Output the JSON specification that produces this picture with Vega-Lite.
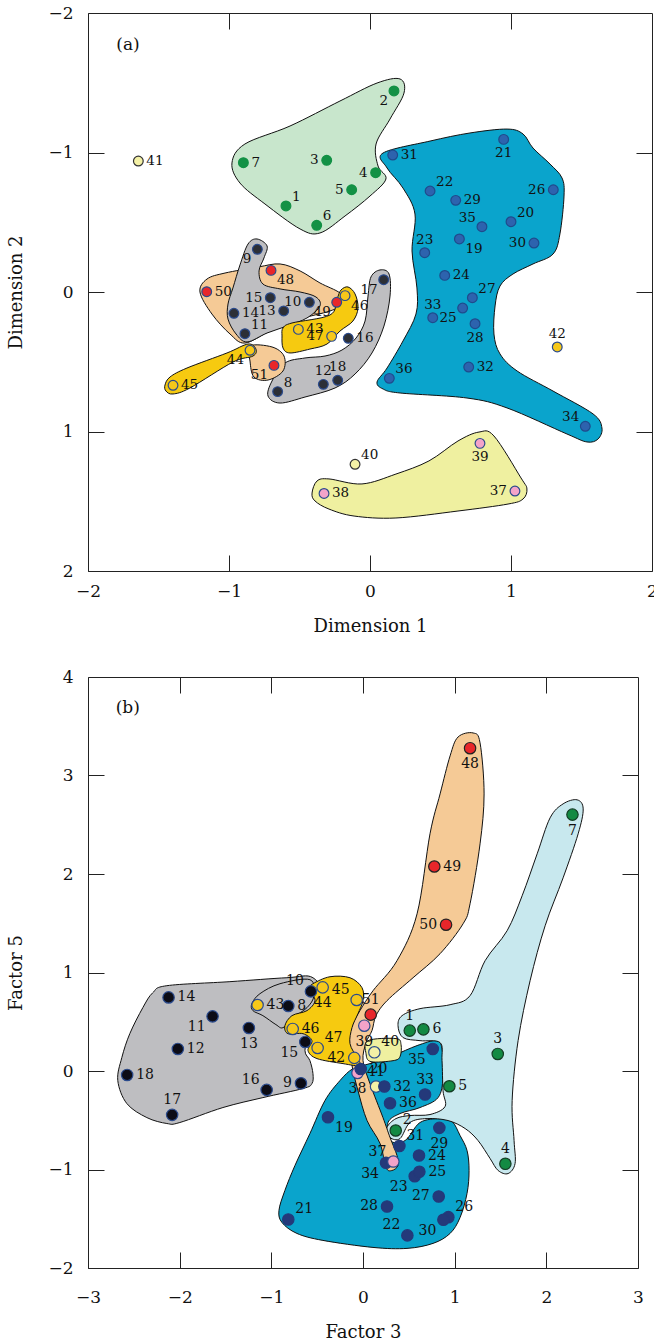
{
  "$schema": "https://vega.github.io/schema/vega-lite/v6.json",
  "background": "white",
  "padding": {"left": 7, "top": 3, "right": 0, "bottom": 0},
  "spacing": 106,
  "bounds": "flush",
  "resolve": {"scale": {"color": "independent", "fill": "independent", "stroke": "independent"}},
  "config": {
    "view": {"stroke": "#222", "strokeWidth": 1},
    "font": "DejaVu Serif",
    "text": {"font": "DejaVu Serif", "color": "#111"},
    "axis": {"domain": false, "grid": false, "tickSize": -16, "tickColor": "#222", "tickWidth": 1, "labelFont": "DejaVu Serif", "labelFontSize": 17, "labelColor": "#111", "titleFont": "DejaVu Serif", "titleFontSize": 18, "titleFontWeight": "normal", "titleColor": "#111", "labelFlush": false, "labelOverlap": false},
    "axisX": {"labelPadding": 28, "titlePadding": 18},
    "axisY": {"labelPadding": 31, "titlePadding": 22}
  },
  "datasets": {
    "pa": [
      {"id": 1, "x": -0.596, "y": -0.617, "g": "G", "lp": "tr"},
      {"id": 2, "x": 0.170, "y": -1.441, "g": "G", "lp": "bl"},
      {"id": 3, "x": -0.307, "y": -0.944, "g": "G", "lp": "l"},
      {"id": 4, "x": 0.040, "y": -0.855, "g": "G", "lp": "l"},
      {"id": 5, "x": -0.130, "y": -0.733, "g": "G", "lp": "l"},
      {"id": 6, "x": -0.378, "y": -0.478, "g": "G", "lp": "tr"},
      {"id": 7, "x": -0.898, "y": -0.927, "g": "G", "lp": "r"},
      {"id": 8, "x": -0.655, "y": 0.714, "g": "K", "lp": "tr"},
      {"id": 9, "x": -0.799, "y": -0.306, "g": "K", "lp": "bl"},
      {"id": 10, "x": -0.430, "y": 0.074, "g": "K", "lp": "l"},
      {"id": 11, "x": -0.887, "y": 0.299, "g": "K", "lp": "tr"},
      {"id": 12, "x": -0.331, "y": 0.662, "g": "K", "lp": "t"},
      {"id": 13, "x": -0.612, "y": 0.136, "g": "K", "lp": "l"},
      {"id": 14, "x": -0.965, "y": 0.153, "g": "K", "lp": "r"},
      {"id": 15, "x": -0.707, "y": 0.041, "g": "K", "lp": "l"},
      {"id": 16, "x": -0.154, "y": 0.332, "g": "K", "lp": "r"},
      {"id": 17, "x": 0.097, "y": -0.088, "g": "K", "lp": "bl"},
      {"id": 18, "x": -0.229, "y": 0.633, "g": "K", "lp": "t"},
      {"id": 19, "x": 0.634, "y": -0.380, "g": "B", "lp": "br"},
      {"id": 20, "x": 1.000, "y": -0.504, "g": "B", "lp": "tr"},
      {"id": 21, "x": 0.948, "y": -1.094, "g": "B", "lp": "b"},
      {"id": 22, "x": 0.426, "y": -0.724, "g": "B", "lp": "tr"},
      {"id": 23, "x": 0.388, "y": -0.282, "g": "B", "lp": "t"},
      {"id": 24, "x": 0.530, "y": -0.119, "g": "B", "lp": "r"},
      {"id": 25, "x": 0.657, "y": 0.115, "g": "B", "lp": "bl"},
      {"id": 26, "x": 1.300, "y": -0.733, "g": "B", "lp": "l"},
      {"id": 27, "x": 0.726, "y": 0.041, "g": "B", "lp": "tr"},
      {"id": 28, "x": 0.745, "y": 0.227, "g": "B", "lp": "b"},
      {"id": 29, "x": 0.608, "y": -0.657, "g": "B", "lp": "r"},
      {"id": 30, "x": 1.163, "y": -0.351, "g": "B", "lp": "l"},
      {"id": 31, "x": 0.161, "y": -0.982, "g": "B", "lp": "r"},
      {"id": 32, "x": 0.700, "y": 0.538, "g": "B", "lp": "r"},
      {"id": 33, "x": 0.445, "y": 0.184, "g": "B", "lp": "t"},
      {"id": 34, "x": 1.527, "y": 0.963, "g": "B", "lp": "tl"},
      {"id": 35, "x": 0.794, "y": -0.468, "g": "B", "lp": "tl"},
      {"id": 36, "x": 0.137, "y": 0.619, "g": "B", "lp": "tr"},
      {"id": 37, "x": 1.028, "y": 1.427, "g": "P", "lp": "l"},
      {"id": 38, "x": -0.326, "y": 1.444, "g": "P", "lp": "r"},
      {"id": 39, "x": 0.780, "y": 1.085, "g": "P", "lp": "b"},
      {"id": 40, "x": -0.106, "y": 1.235, "g": "Y", "lp": "tr"},
      {"id": 41, "x": -1.643, "y": -0.939, "g": "Y", "lp": "r"},
      {"id": 42, "x": 1.328, "y": 0.394, "g": "O", "lp": "t"},
      {"id": 43, "x": -0.508, "y": 0.268, "g": "O", "lp": "r"},
      {"id": 44, "x": -0.851, "y": 0.418, "g": "O", "lp": "bl"},
      {"id": 45, "x": -1.397, "y": 0.669, "g": "O", "lp": "r"},
      {"id": 46, "x": -0.177, "y": 0.026, "g": "O", "lp": "br"},
      {"id": 47, "x": -0.272, "y": 0.318, "g": "O", "lp": "l"},
      {"id": 48, "x": -0.702, "y": -0.155, "g": "R", "lp": "br"},
      {"id": 49, "x": -0.236, "y": 0.074, "g": "R", "lp": "bl"},
      {"id": 50, "x": -1.158, "y": -0.002, "g": "R", "lp": "r"},
      {"id": 51, "x": -0.681, "y": 0.526, "g": "R", "lp": "bl"}
    ],
    "pb": [
      {"id": 38, "x": -0.060, "y": -0.020, "g": "P", "lp": "b"},
      {"id": 41, "x": 0.142, "y": -0.158, "g": "Y", "lp": "t"},
      {"id": 1, "x": 0.510, "y": 0.410, "g": "G", "lp": "t"},
      {"id": 2, "x": 0.357, "y": -0.604, "g": "G", "lp": "tr"},
      {"id": 3, "x": 1.470, "y": 0.173, "g": "G", "lp": "t"},
      {"id": 4, "x": 1.553, "y": -0.942, "g": "G", "lp": "t"},
      {"id": 5, "x": 0.942, "y": -0.155, "g": "G", "lp": "r"},
      {"id": 6, "x": 0.659, "y": 0.423, "g": "G", "lp": "r"},
      {"id": 7, "x": 2.285, "y": 2.603, "g": "G", "lp": "b"},
      {"id": 8, "x": -0.815, "y": 0.660, "g": "K", "lp": "r"},
      {"id": 9, "x": -0.677, "y": -0.125, "g": "K", "lp": "l"},
      {"id": 10, "x": -0.568, "y": 0.808, "g": "K", "lp": "tl"},
      {"id": 11, "x": -1.641, "y": 0.555, "g": "K", "lp": "bl"},
      {"id": 12, "x": -2.020, "y": 0.224, "g": "K", "lp": "r"},
      {"id": 13, "x": -1.245, "y": 0.437, "g": "K", "lp": "b"},
      {"id": 14, "x": -2.121, "y": 0.747, "g": "K", "lp": "r"},
      {"id": 15, "x": -0.630, "y": 0.295, "g": "K", "lp": "bl"},
      {"id": 16, "x": -1.051, "y": -0.192, "g": "K", "lp": "tl"},
      {"id": 17, "x": -2.082, "y": -0.445, "g": "K", "lp": "t"},
      {"id": 18, "x": -2.573, "y": -0.040, "g": "K", "lp": "r"},
      {"id": 19, "x": -0.382, "y": -0.470, "g": "B", "lp": "br"},
      {"id": 20, "x": -0.025, "y": 0.020, "g": "B", "lp": "r"},
      {"id": 21, "x": -0.815, "y": -1.507, "g": "B", "lp": "tr"},
      {"id": 22, "x": 0.484, "y": -1.669, "g": "B", "lp": "tl"},
      {"id": 23, "x": 0.564, "y": -1.068, "g": "B", "lp": "bl"},
      {"id": 24, "x": 0.611, "y": -0.858, "g": "B", "lp": "r"},
      {"id": 25, "x": 0.615, "y": -1.023, "g": "B", "lp": "r"},
      {"id": 26, "x": 0.931, "y": -1.484, "g": "B", "lp": "tr"},
      {"id": 27, "x": 0.826, "y": -1.274, "g": "B", "lp": "l"},
      {"id": 28, "x": 0.262, "y": -1.375, "g": "B", "lp": "l"},
      {"id": 29, "x": 0.833, "y": -0.577, "g": "B", "lp": "b"},
      {"id": 30, "x": 0.877, "y": -1.510, "g": "B", "lp": "bl"},
      {"id": 31, "x": 0.397, "y": -0.762, "g": "B", "lp": "tr"},
      {"id": 32, "x": 0.233, "y": -0.158, "g": "B", "lp": "r"},
      {"id": 33, "x": 0.677, "y": -0.239, "g": "B", "lp": "t"},
      {"id": 34, "x": 0.251, "y": -0.932, "g": "B", "lp": "bl"},
      {"id": 35, "x": 0.761, "y": 0.224, "g": "B", "lp": "bl"},
      {"id": 36, "x": 0.295, "y": -0.327, "g": "B", "lp": "r"},
      {"id": 37, "x": 0.331, "y": -0.919, "g": "P", "lp": "tl"},
      {"id": 39, "x": 0.014, "y": 0.460, "g": "P", "lp": "b"},
      {"id": 40, "x": 0.124, "y": 0.190, "g": "Y", "lp": "tr"},
      {"id": 42, "x": -0.095, "y": 0.133, "g": "O", "lp": "l"},
      {"id": 43, "x": -1.150, "y": 0.670, "g": "O", "lp": "r"},
      {"id": 44, "x": -0.440, "y": 0.849, "g": "O", "lp": "b"},
      {"id": 45, "x": -0.069, "y": 0.721, "g": "O", "lp": "tl"},
      {"id": 46, "x": -0.767, "y": 0.427, "g": "O", "lp": "r"},
      {"id": 47, "x": -0.495, "y": 0.234, "g": "O", "lp": "tr"},
      {"id": 48, "x": 1.168, "y": 3.277, "g": "R", "lp": "b"},
      {"id": 49, "x": 0.778, "y": 2.076, "g": "R", "lp": "r"},
      {"id": 50, "x": 0.906, "y": 1.485, "g": "R", "lp": "l"},
      {"id": 51, "x": 0.084, "y": 0.572, "g": "R", "lp": "t"}
    ],
    "ba": [
      {"b": "green", "c": "green", "i": 0, "x": -0.979, "y": -0.925},
      {"b": "green", "c": "green", "i": 1, "x": -0.887, "y": -1.061},
      {"b": "green", "c": "green", "i": 2, "x": -0.567, "y": -1.190},
      {"b": "green", "c": "green", "i": 3, "x": -0.213, "y": -1.369},
      {"b": "green", "c": "green", "i": 4, "x": 0.050, "y": -1.498},
      {"b": "green", "c": "green", "i": 5, "x": 0.213, "y": -1.527},
      {"b": "green", "c": "green", "i": 6, "x": 0.241, "y": -1.426},
      {"b": "green", "c": "green", "i": 7, "x": 0.142, "y": -1.240},
      {"b": "green", "c": "green", "i": 8, "x": 0.043, "y": -1.061},
      {"b": "green", "c": "green", "i": 9, "x": 0.057, "y": -0.903},
      {"b": "green", "c": "green", "i": 10, "x": 0.113, "y": -0.810},
      {"b": "green", "c": "green", "i": 11, "x": 0.000, "y": -0.688},
      {"b": "green", "c": "green", "i": 12, "x": -0.177, "y": -0.545},
      {"b": "green", "c": "green", "i": 13, "x": -0.355, "y": -0.423},
      {"b": "green", "c": "green", "i": 14, "x": -0.496, "y": -0.452},
      {"b": "green", "c": "green", "i": 15, "x": -0.745, "y": -0.631},
      {"b": "green", "c": "green", "i": 16, "x": -0.922, "y": -0.781},
      {"b": "blue", "c": "blue", "i": 0, "x": 0.092, "y": -0.996},
      {"b": "blue", "c": "blue", "i": 1, "x": 0.426, "y": -1.082},
      {"b": "blue", "c": "blue", "i": 2, "x": 0.709, "y": -1.140},
      {"b": "blue", "c": "blue", "i": 3, "x": 0.972, "y": -1.168},
      {"b": "blue", "c": "blue", "i": 4, "x": 1.085, "y": -1.133},
      {"b": "blue", "c": "blue", "i": 5, "x": 1.156, "y": -1.032},
      {"b": "blue", "c": "blue", "i": 6, "x": 1.277, "y": -0.917},
      {"b": "blue", "c": "blue", "i": 7, "x": 1.362, "y": -0.817},
      {"b": "blue", "c": "blue", "i": 8, "x": 1.376, "y": -0.688},
      {"b": "blue", "c": "blue", "i": 9, "x": 1.347, "y": -0.416},
      {"b": "blue", "c": "blue", "i": 10, "x": 1.298, "y": -0.272},
      {"b": "blue", "c": "blue", "i": 11, "x": 1.156, "y": -0.201},
      {"b": "blue", "c": "blue", "i": 12, "x": 1.014, "y": -0.129},
      {"b": "blue", "c": "blue", "i": 13, "x": 0.922, "y": -0.043},
      {"b": "blue", "c": "blue", "i": 14, "x": 0.887, "y": 0.100},
      {"b": "blue", "c": "blue", "i": 15, "x": 0.879, "y": 0.301},
      {"b": "blue", "c": "blue", "i": 16, "x": 0.922, "y": 0.444},
      {"b": "blue", "c": "blue", "i": 17, "x": 1.043, "y": 0.566},
      {"b": "blue", "c": "blue", "i": 18, "x": 1.298, "y": 0.710},
      {"b": "blue", "c": "blue", "i": 19, "x": 1.582, "y": 0.874},
      {"b": "blue", "c": "blue", "i": 20, "x": 1.645, "y": 0.975},
      {"b": "blue", "c": "blue", "i": 21, "x": 1.617, "y": 1.054},
      {"b": "blue", "c": "blue", "i": 22, "x": 1.539, "y": 1.075},
      {"b": "blue", "c": "blue", "i": 23, "x": 1.397, "y": 1.018},
      {"b": "blue", "c": "blue", "i": 24, "x": 0.972, "y": 0.831},
      {"b": "blue", "c": "blue", "i": 25, "x": 0.688, "y": 0.760},
      {"b": "blue", "c": "blue", "i": 26, "x": 0.213, "y": 0.724},
      {"b": "blue", "c": "blue", "i": 27, "x": 0.092, "y": 0.695},
      {"b": "blue", "c": "blue", "i": 28, "x": 0.050, "y": 0.645},
      {"b": "blue", "c": "blue", "i": 29, "x": 0.121, "y": 0.545},
      {"b": "blue", "c": "blue", "i": 30, "x": 0.234, "y": 0.351},
      {"b": "blue", "c": "blue", "i": 31, "x": 0.326, "y": 0.158},
      {"b": "blue", "c": "blue", "i": 32, "x": 0.333, "y": -0.029},
      {"b": "blue", "c": "blue", "i": 33, "x": 0.298, "y": -0.294},
      {"b": "blue", "c": "blue", "i": 34, "x": 0.319, "y": -0.559},
      {"b": "blue", "c": "blue", "i": 35, "x": 0.234, "y": -0.745},
      {"b": "blue", "c": "blue", "i": 36, "x": 0.121, "y": -0.889},
      {"b": "pale", "c": "pale", "i": 0, "x": -0.411, "y": 1.441},
      {"b": "pale", "c": "pale", "i": 1, "x": -0.376, "y": 1.355},
      {"b": "pale", "c": "pale", "i": 2, "x": -0.291, "y": 1.340},
      {"b": "pale", "c": "pale", "i": 3, "x": -0.057, "y": 1.376},
      {"b": "pale", "c": "pale", "i": 4, "x": 0.184, "y": 1.305},
      {"b": "pale", "c": "pale", "i": 5, "x": 0.418, "y": 1.211},
      {"b": "pale", "c": "pale", "i": 6, "x": 0.624, "y": 1.068},
      {"b": "pale", "c": "pale", "i": 7, "x": 0.773, "y": 1.004},
      {"b": "pale", "c": "pale", "i": 8, "x": 0.879, "y": 1.032},
      {"b": "pale", "c": "pale", "i": 9, "x": 1.071, "y": 1.333},
      {"b": "pale", "c": "pale", "i": 10, "x": 1.113, "y": 1.412},
      {"b": "pale", "c": "pale", "i": 11, "x": 1.085, "y": 1.484},
      {"b": "pale", "c": "pale", "i": 12, "x": 0.979, "y": 1.520},
      {"b": "pale", "c": "pale", "i": 13, "x": 0.624, "y": 1.570},
      {"b": "pale", "c": "pale", "i": 14, "x": 0.184, "y": 1.620},
      {"b": "pale", "c": "pale", "i": 15, "x": -0.113, "y": 1.606},
      {"b": "pale", "c": "pale", "i": 16, "x": -0.291, "y": 1.556},
      {"b": "pale", "c": "pale", "i": 17, "x": -0.390, "y": 1.498},
      {"b": "orange1", "c": "orange", "i": 0, "x": -1.206, "y": 0.000},
      {"b": "orange1", "c": "orange", "i": 1, "x": -1.156, "y": -0.093},
      {"b": "orange1", "c": "orange", "i": 2, "x": -1.028, "y": -0.136},
      {"b": "orange1", "c": "orange", "i": 3, "x": -0.794, "y": -0.179},
      {"b": "orange1", "c": "orange", "i": 4, "x": -0.638, "y": -0.201},
      {"b": "orange1", "c": "orange", "i": 5, "x": -0.496, "y": -0.151},
      {"b": "orange1", "c": "orange", "i": 6, "x": -0.355, "y": -0.065},
      {"b": "orange1", "c": "orange", "i": 7, "x": -0.213, "y": 0.007},
      {"b": "orange1", "c": "orange", "i": 8, "x": -0.170, "y": 0.079},
      {"b": "orange1", "c": "orange", "i": 9, "x": -0.284, "y": 0.136},
      {"b": "orange1", "c": "orange", "i": 10, "x": -0.496, "y": 0.194},
      {"b": "orange1", "c": "orange", "i": 11, "x": -0.709, "y": 0.280},
      {"b": "orange1", "c": "orange", "i": 12, "x": -0.887, "y": 0.366},
      {"b": "orange1", "c": "orange", "i": 13, "x": -0.993, "y": 0.301},
      {"b": "orange1", "c": "orange", "i": 14, "x": -1.121, "y": 0.158},
      {"b": "gray1", "c": "gray", "i": 0, "x": -0.801, "y": -0.380},
      {"b": "gray1", "c": "gray", "i": 1, "x": -0.730, "y": -0.330},
      {"b": "gray1", "c": "gray", "i": 2, "x": -0.752, "y": -0.244},
      {"b": "gray1", "c": "gray", "i": 3, "x": -0.787, "y": -0.151},
      {"b": "gray1", "c": "gray", "i": 4, "x": -0.759, "y": -0.057},
      {"b": "gray1", "c": "gray", "i": 5, "x": -0.638, "y": -0.022},
      {"b": "gray1", "c": "gray", "i": 6, "x": -0.496, "y": 0.000},
      {"b": "gray1", "c": "gray", "i": 7, "x": -0.383, "y": 0.036},
      {"b": "gray1", "c": "gray", "i": 8, "x": -0.355, "y": 0.100},
      {"b": "gray1", "c": "gray", "i": 9, "x": -0.447, "y": 0.186},
      {"b": "gray1", "c": "gray", "i": 10, "x": -0.589, "y": 0.244},
      {"b": "gray1", "c": "gray", "i": 11, "x": -0.730, "y": 0.294},
      {"b": "gray1", "c": "gray", "i": 12, "x": -0.872, "y": 0.358},
      {"b": "gray1", "c": "gray", "i": 13, "x": -0.950, "y": 0.301},
      {"b": "gray1", "c": "gray", "i": 14, "x": -1.007, "y": 0.194},
      {"b": "gray1", "c": "gray", "i": 15, "x": -1.007, "y": 0.086},
      {"b": "gray1", "c": "gray", "i": 16, "x": -0.972, "y": -0.029},
      {"b": "gray1", "c": "gray", "i": 17, "x": -0.922, "y": -0.194},
      {"b": "gray1", "c": "gray", "i": 18, "x": -0.865, "y": -0.344},
      {"b": "gray2", "c": "gray", "i": 0, "x": -0.723, "y": 0.746},
      {"b": "gray2", "c": "gray", "i": 1, "x": -0.695, "y": 0.638},
      {"b": "gray2", "c": "gray", "i": 2, "x": -0.603, "y": 0.509},
      {"b": "gray2", "c": "gray", "i": 3, "x": -0.461, "y": 0.473},
      {"b": "gray2", "c": "gray", "i": 4, "x": -0.319, "y": 0.459},
      {"b": "gray2", "c": "gray", "i": 5, "x": -0.199, "y": 0.416},
      {"b": "gray2", "c": "gray", "i": 6, "x": -0.099, "y": 0.330},
      {"b": "gray2", "c": "gray", "i": 7, "x": -0.035, "y": 0.208},
      {"b": "gray2", "c": "gray", "i": 8, "x": -0.014, "y": 0.029},
      {"b": "gray2", "c": "gray", "i": 9, "x": 0.007, "y": -0.108},
      {"b": "gray2", "c": "gray", "i": 10, "x": 0.071, "y": -0.158},
      {"b": "gray2", "c": "gray", "i": 11, "x": 0.135, "y": -0.129},
      {"b": "gray2", "c": "gray", "i": 12, "x": 0.142, "y": 0.029},
      {"b": "gray2", "c": "gray", "i": 13, "x": 0.099, "y": 0.244},
      {"b": "gray2", "c": "gray", "i": 14, "x": 0.014, "y": 0.437},
      {"b": "gray2", "c": "gray", "i": 15, "x": -0.106, "y": 0.588},
      {"b": "gray2", "c": "gray", "i": 16, "x": -0.248, "y": 0.688},
      {"b": "gray2", "c": "gray", "i": 17, "x": -0.461, "y": 0.753},
      {"b": "gray2", "c": "gray", "i": 18, "x": -0.638, "y": 0.796},
      {"b": "orange2", "c": "orange", "i": 0, "x": -0.851, "y": 0.387},
      {"b": "orange2", "c": "orange", "i": 1, "x": -0.695, "y": 0.394},
      {"b": "orange2", "c": "orange", "i": 2, "x": -0.610, "y": 0.459},
      {"b": "orange2", "c": "orange", "i": 3, "x": -0.617, "y": 0.566},
      {"b": "orange2", "c": "orange", "i": 4, "x": -0.723, "y": 0.631},
      {"b": "orange2", "c": "orange", "i": 5, "x": -0.823, "y": 0.609},
      {"b": "orange2", "c": "orange", "i": 6, "x": -0.851, "y": 0.495},
      {"b": "yellow1", "c": "yellow", "i": 0, "x": -1.454, "y": 0.667},
      {"b": "yellow1", "c": "yellow", "i": 1, "x": -1.418, "y": 0.609},
      {"b": "yellow1", "c": "yellow", "i": 2, "x": -1.298, "y": 0.545},
      {"b": "yellow1", "c": "yellow", "i": 3, "x": -1.014, "y": 0.437},
      {"b": "yellow1", "c": "yellow", "i": 4, "x": -0.865, "y": 0.373},
      {"b": "yellow1", "c": "yellow", "i": 5, "x": -0.809, "y": 0.409},
      {"b": "yellow1", "c": "yellow", "i": 6, "x": -0.830, "y": 0.459},
      {"b": "yellow1", "c": "yellow", "i": 7, "x": -0.972, "y": 0.502},
      {"b": "yellow1", "c": "yellow", "i": 8, "x": -1.277, "y": 0.688},
      {"b": "yellow1", "c": "yellow", "i": 9, "x": -1.397, "y": 0.731},
      {"b": "yellow1", "c": "yellow", "i": 10, "x": -1.447, "y": 0.710},
      {"b": "yellow2", "c": "yellow", "i": 0, "x": -0.617, "y": 0.258},
      {"b": "yellow2", "c": "yellow", "i": 1, "x": -0.553, "y": 0.222},
      {"b": "yellow2", "c": "yellow", "i": 2, "x": -0.284, "y": 0.165},
      {"b": "yellow2", "c": "yellow", "i": 3, "x": -0.234, "y": 0.050},
      {"b": "yellow2", "c": "yellow", "i": 4, "x": -0.206, "y": -0.014},
      {"b": "yellow2", "c": "yellow", "i": 5, "x": -0.156, "y": -0.036},
      {"b": "yellow2", "c": "yellow", "i": 6, "x": -0.106, "y": 0.014},
      {"b": "yellow2", "c": "yellow", "i": 7, "x": -0.085, "y": 0.115},
      {"b": "yellow2", "c": "yellow", "i": 8, "x": -0.121, "y": 0.208},
      {"b": "yellow2", "c": "yellow", "i": 9, "x": -0.213, "y": 0.280},
      {"b": "yellow2", "c": "yellow", "i": 10, "x": -0.305, "y": 0.373},
      {"b": "yellow2", "c": "yellow", "i": 11, "x": -0.426, "y": 0.409},
      {"b": "yellow2", "c": "yellow", "i": 12, "x": -0.567, "y": 0.437},
      {"b": "yellow2", "c": "yellow", "i": 13, "x": -0.617, "y": 0.401},
      {"b": "yellow2", "c": "yellow", "i": 14, "x": -0.624, "y": 0.315}
    ],
    "bb": [
      {"b": "gray", "c": "gray", "i": 0, "x": -2.293, "y": 0.795},
      {"b": "gray", "c": "gray", "i": 1, "x": -2.140, "y": 0.866},
      {"b": "gray", "c": "gray", "i": 2, "x": -1.452, "y": 0.907},
      {"b": "gray", "c": "gray", "i": 3, "x": -0.830, "y": 0.947},
      {"b": "gray", "c": "gray", "i": 4, "x": -0.546, "y": 0.947},
      {"b": "gray", "c": "gray", "i": 5, "x": -0.415, "y": 0.714},
      {"b": "gray", "c": "gray", "i": 6, "x": -0.579, "y": 0.410},
      {"b": "gray", "c": "gray", "i": 7, "x": -0.633, "y": 0.207},
      {"b": "gray", "c": "gray", "i": 8, "x": -0.579, "y": 0.105},
      {"b": "gray", "c": "gray", "i": 9, "x": -0.546, "y": -0.026},
      {"b": "gray", "c": "gray", "i": 10, "x": -0.557, "y": -0.128},
      {"b": "gray", "c": "gray", "i": 11, "x": -0.655, "y": -0.178},
      {"b": "gray", "c": "gray", "i": 12, "x": -1.092, "y": -0.270},
      {"b": "gray", "c": "gray", "i": 13, "x": -1.528, "y": -0.371},
      {"b": "gray", "c": "gray", "i": 14, "x": -1.998, "y": -0.523},
      {"b": "gray", "c": "gray", "i": 15, "x": -2.140, "y": -0.533},
      {"b": "gray", "c": "gray", "i": 16, "x": -2.358, "y": -0.473},
      {"b": "gray", "c": "gray", "i": 17, "x": -2.576, "y": -0.331},
      {"b": "gray", "c": "gray", "i": 18, "x": -2.675, "y": -0.097},
      {"b": "gray", "c": "gray", "i": 19, "x": -2.631, "y": 0.136},
      {"b": "gray", "c": "gray", "i": 20, "x": -2.544, "y": 0.379},
      {"b": "gray", "c": "gray", "i": 21, "x": -2.402, "y": 0.643},
      {"b": "lobe", "c": "gray", "i": 0, "x": -1.212, "y": 0.684},
      {"b": "lobe", "c": "gray", "i": 1, "x": -1.124, "y": 0.785},
      {"b": "lobe", "c": "gray", "i": 2, "x": -0.906, "y": 0.886},
      {"b": "lobe", "c": "gray", "i": 3, "x": -0.579, "y": 0.927},
      {"b": "lobe", "c": "gray", "i": 4, "x": -0.535, "y": 0.765},
      {"b": "lobe", "c": "gray", "i": 5, "x": -0.611, "y": 0.643},
      {"b": "lobe", "c": "gray", "i": 6, "x": -0.764, "y": 0.542},
      {"b": "lobe", "c": "gray", "i": 7, "x": -0.873, "y": 0.440},
      {"b": "lobe", "c": "gray", "i": 8, "x": -0.950, "y": 0.471},
      {"b": "lobe", "c": "gray", "i": 9, "x": -1.092, "y": 0.562},
      {"b": "lobe", "c": "gray", "i": 10, "x": -1.201, "y": 0.613},
      {"b": "blue", "c": "blue", "i": 0, "x": -0.109, "y": 0.024},
      {"b": "blue", "c": "blue", "i": 1, "x": 0.076, "y": 0.075},
      {"b": "blue", "c": "blue", "i": 2, "x": 0.328, "y": 0.156},
      {"b": "blue", "c": "blue", "i": 3, "x": 0.590, "y": 0.258},
      {"b": "blue", "c": "blue", "i": 4, "x": 0.797, "y": 0.308},
      {"b": "blue", "c": "blue", "i": 5, "x": 0.862, "y": 0.227},
      {"b": "blue", "c": "blue", "i": 6, "x": 0.873, "y": -0.067},
      {"b": "blue", "c": "blue", "i": 7, "x": 0.819, "y": -0.270},
      {"b": "blue", "c": "blue", "i": 8, "x": 0.622, "y": -0.371},
      {"b": "blue", "c": "blue", "i": 9, "x": 0.404, "y": -0.432},
      {"b": "blue", "c": "blue", "i": 10, "x": 0.273, "y": -0.523},
      {"b": "blue", "c": "blue", "i": 11, "x": 0.295, "y": -0.706},
      {"b": "blue", "c": "blue", "i": 12, "x": 0.459, "y": -0.706},
      {"b": "blue", "c": "blue", "i": 13, "x": 0.622, "y": -0.523},
      {"b": "blue", "c": "blue", "i": 14, "x": 0.841, "y": -0.483},
      {"b": "blue", "c": "blue", "i": 15, "x": 0.972, "y": -0.513},
      {"b": "blue", "c": "blue", "i": 16, "x": 1.059, "y": -0.655},
      {"b": "blue", "c": "blue", "i": 17, "x": 1.135, "y": -0.807},
      {"b": "blue", "c": "blue", "i": 18, "x": 1.157, "y": -1.010},
      {"b": "blue", "c": "blue", "i": 19, "x": 1.135, "y": -1.243},
      {"b": "blue", "c": "blue", "i": 20, "x": 1.059, "y": -1.487},
      {"b": "blue", "c": "blue", "i": 21, "x": 0.950, "y": -1.649},
      {"b": "blue", "c": "blue", "i": 22, "x": 0.764, "y": -1.750},
      {"b": "blue", "c": "blue", "i": 23, "x": 0.480, "y": -1.801},
      {"b": "blue", "c": "blue", "i": 24, "x": 0.109, "y": -1.791},
      {"b": "blue", "c": "blue", "i": 25, "x": -0.437, "y": -1.720},
      {"b": "blue", "c": "blue", "i": 26, "x": -0.721, "y": -1.649},
      {"b": "blue", "c": "blue", "i": 27, "x": -0.884, "y": -1.538},
      {"b": "blue", "c": "blue", "i": 28, "x": -0.917, "y": -1.416},
      {"b": "blue", "c": "blue", "i": 29, "x": -0.852, "y": -1.213},
      {"b": "blue", "c": "blue", "i": 30, "x": -0.742, "y": -0.959},
      {"b": "blue", "c": "blue", "i": 31, "x": -0.579, "y": -0.635},
      {"b": "blue", "c": "blue", "i": 32, "x": -0.415, "y": -0.300},
      {"b": "blue", "c": "blue", "i": 33, "x": -0.251, "y": -0.097},
      {"b": "lblue", "c": "lblue", "i": 0, "x": 2.183, "y": 2.712},
      {"b": "lblue", "c": "lblue", "i": 1, "x": 2.336, "y": 2.753},
      {"b": "lblue", "c": "lblue", "i": 2, "x": 2.402, "y": 2.661},
      {"b": "lblue", "c": "lblue", "i": 3, "x": 2.347, "y": 2.408},
      {"b": "lblue", "c": "lblue", "i": 4, "x": 2.183, "y": 1.961},
      {"b": "lblue", "c": "lblue", "i": 5, "x": 1.987, "y": 1.475},
      {"b": "lblue", "c": "lblue", "i": 6, "x": 1.823, "y": 0.917},
      {"b": "lblue", "c": "lblue", "i": 7, "x": 1.692, "y": 0.308},
      {"b": "lblue", "c": "lblue", "i": 8, "x": 1.627, "y": -0.300},
      {"b": "lblue", "c": "lblue", "i": 9, "x": 1.648, "y": -0.706},
      {"b": "lblue", "c": "lblue", "i": 10, "x": 1.659, "y": -0.939},
      {"b": "lblue", "c": "lblue", "i": 11, "x": 1.583, "y": -1.041},
      {"b": "lblue", "c": "lblue", "i": 12, "x": 1.474, "y": -1.010},
      {"b": "lblue", "c": "lblue", "i": 13, "x": 1.386, "y": -0.888},
      {"b": "lblue", "c": "lblue", "i": 14, "x": 1.255, "y": -0.706},
      {"b": "lblue", "c": "lblue", "i": 15, "x": 1.114, "y": -0.584},
      {"b": "lblue", "c": "lblue", "i": 16, "x": 0.928, "y": -0.503},
      {"b": "lblue", "c": "lblue", "i": 17, "x": 0.699, "y": -0.483},
      {"b": "lblue", "c": "lblue", "i": 18, "x": 0.513, "y": -0.523},
      {"b": "lblue", "c": "lblue", "i": 19, "x": 0.404, "y": -0.686},
      {"b": "lblue", "c": "lblue", "i": 20, "x": 0.295, "y": -0.675},
      {"b": "lblue", "c": "lblue", "i": 21, "x": 0.262, "y": -0.574},
      {"b": "lblue", "c": "lblue", "i": 22, "x": 0.360, "y": -0.483},
      {"b": "lblue", "c": "lblue", "i": 23, "x": 0.513, "y": -0.452},
      {"b": "lblue", "c": "lblue", "i": 24, "x": 0.731, "y": -0.442},
      {"b": "lblue", "c": "lblue", "i": 25, "x": 0.895, "y": -0.361},
      {"b": "lblue", "c": "lblue", "i": 26, "x": 0.873, "y": -0.199},
      {"b": "lblue", "c": "lblue", "i": 27, "x": 0.862, "y": 0.105},
      {"b": "lblue", "c": "lblue", "i": 28, "x": 0.841, "y": 0.288},
      {"b": "lblue", "c": "lblue", "i": 29, "x": 0.622, "y": 0.308},
      {"b": "lblue", "c": "lblue", "i": 30, "x": 0.437, "y": 0.339},
      {"b": "lblue", "c": "lblue", "i": 31, "x": 0.382, "y": 0.460},
      {"b": "lblue", "c": "lblue", "i": 32, "x": 0.426, "y": 0.562},
      {"b": "lblue", "c": "lblue", "i": 33, "x": 0.622, "y": 0.633},
      {"b": "lblue", "c": "lblue", "i": 34, "x": 0.950, "y": 0.673},
      {"b": "lblue", "c": "lblue", "i": 35, "x": 1.168, "y": 0.765},
      {"b": "lblue", "c": "lblue", "i": 36, "x": 1.332, "y": 1.120},
      {"b": "lblue", "c": "lblue", "i": 37, "x": 1.572, "y": 1.424},
      {"b": "lblue", "c": "lblue", "i": 38, "x": 1.736, "y": 1.779},
      {"b": "lblue", "c": "lblue", "i": 39, "x": 1.900, "y": 2.205},
      {"b": "lblue", "c": "lblue", "i": 40, "x": 2.041, "y": 2.570},
      {"b": "orange", "c": "orange", "i": 0, "x": 1.037, "y": 3.391},
      {"b": "orange", "c": "orange", "i": 1, "x": 1.201, "y": 3.432},
      {"b": "orange", "c": "orange", "i": 2, "x": 1.277, "y": 3.331},
      {"b": "orange", "c": "orange", "i": 3, "x": 1.321, "y": 2.813},
      {"b": "orange", "c": "orange", "i": 4, "x": 1.277, "y": 2.306},
      {"b": "orange", "c": "orange", "i": 5, "x": 1.168, "y": 1.698},
      {"b": "orange", "c": "orange", "i": 6, "x": 1.092, "y": 1.495},
      {"b": "orange", "c": "orange", "i": 7, "x": 0.841, "y": 1.191},
      {"b": "orange", "c": "orange", "i": 8, "x": 0.546, "y": 0.947},
      {"b": "orange", "c": "orange", "i": 9, "x": 0.262, "y": 0.714},
      {"b": "orange", "c": "orange", "i": 10, "x": 0.142, "y": 0.562},
      {"b": "orange", "c": "orange", "i": 11, "x": 0.098, "y": 0.410},
      {"b": "orange", "c": "orange", "i": 12, "x": 0.033, "y": 0.288},
      {"b": "orange", "c": "orange", "i": 13, "x": 0.000, "y": 0.105},
      {"b": "orange", "c": "orange", "i": 14, "x": 0.076, "y": -0.128},
      {"b": "orange", "c": "orange", "i": 15, "x": 0.218, "y": -0.473},
      {"b": "orange", "c": "orange", "i": 16, "x": 0.295, "y": -0.675},
      {"b": "orange", "c": "orange", "i": 17, "x": 0.371, "y": -0.858},
      {"b": "orange", "c": "orange", "i": 18, "x": 0.382, "y": -0.959},
      {"b": "orange", "c": "orange", "i": 19, "x": 0.317, "y": -1.010},
      {"b": "orange", "c": "orange", "i": 20, "x": 0.251, "y": -0.980},
      {"b": "orange", "c": "orange", "i": 21, "x": 0.186, "y": -0.736},
      {"b": "orange", "c": "orange", "i": 22, "x": 0.044, "y": -0.503},
      {"b": "orange", "c": "orange", "i": 23, "x": -0.055, "y": -0.199},
      {"b": "orange", "c": "orange", "i": 24, "x": -0.120, "y": 0.055},
      {"b": "orange", "c": "orange", "i": 25, "x": -0.153, "y": 0.308},
      {"b": "orange", "c": "orange", "i": 26, "x": -0.120, "y": 0.460},
      {"b": "orange", "c": "orange", "i": 27, "x": -0.033, "y": 0.613},
      {"b": "orange", "c": "orange", "i": 28, "x": 0.109, "y": 0.815},
      {"b": "orange", "c": "orange", "i": 29, "x": 0.371, "y": 1.120},
      {"b": "orange", "c": "orange", "i": 30, "x": 0.590, "y": 1.596},
      {"b": "orange", "c": "orange", "i": 31, "x": 0.731, "y": 2.408},
      {"b": "orange", "c": "orange", "i": 32, "x": 0.841, "y": 2.813},
      {"b": "orange", "c": "orange", "i": 33, "x": 0.950, "y": 3.199},
      {"b": "yellow", "c": "yellow", "i": 0, "x": -0.546, "y": 0.886},
      {"b": "yellow", "c": "yellow", "i": 1, "x": -0.360, "y": 0.957},
      {"b": "yellow", "c": "yellow", "i": 2, "x": -0.142, "y": 0.947},
      {"b": "yellow", "c": "yellow", "i": 3, "x": -0.011, "y": 0.846},
      {"b": "yellow", "c": "yellow", "i": 4, "x": 0.000, "y": 0.714},
      {"b": "yellow", "c": "yellow", "i": 5, "x": -0.055, "y": 0.582},
      {"b": "yellow", "c": "yellow", "i": 6, "x": -0.120, "y": 0.440},
      {"b": "yellow", "c": "yellow", "i": 7, "x": -0.142, "y": 0.278},
      {"b": "yellow", "c": "yellow", "i": 8, "x": -0.066, "y": 0.136},
      {"b": "yellow", "c": "yellow", "i": 9, "x": -0.033, "y": 0.055},
      {"b": "yellow", "c": "yellow", "i": 10, "x": -0.218, "y": 0.075},
      {"b": "yellow", "c": "yellow", "i": 11, "x": -0.502, "y": 0.126},
      {"b": "yellow", "c": "yellow", "i": 12, "x": -0.600, "y": 0.207},
      {"b": "yellow", "c": "yellow", "i": 13, "x": -0.557, "y": 0.308},
      {"b": "yellow", "c": "yellow", "i": 14, "x": -0.655, "y": 0.379},
      {"b": "yellow", "c": "yellow", "i": 15, "x": -0.819, "y": 0.379},
      {"b": "yellow", "c": "yellow", "i": 16, "x": -0.852, "y": 0.460},
      {"b": "yellow", "c": "yellow", "i": 17, "x": -0.775, "y": 0.562},
      {"b": "yellow", "c": "yellow", "i": 18, "x": -0.611, "y": 0.613},
      {"b": "yellow", "c": "yellow", "i": 19, "x": -0.524, "y": 0.714},
      {"b": "yellow", "c": "yellow", "i": 20, "x": -0.579, "y": 0.836},
      {"b": "pale", "c": "pale", "i": 0, "x": 0.055, "y": 0.308},
      {"b": "pale", "c": "pale", "i": 1, "x": 0.360, "y": 0.329},
      {"b": "pale", "c": "pale", "i": 2, "x": 0.415, "y": 0.268},
      {"b": "pale", "c": "pale", "i": 3, "x": 0.404, "y": 0.146},
      {"b": "pale", "c": "pale", "i": 4, "x": 0.328, "y": 0.105},
      {"b": "pale", "c": "pale", "i": 5, "x": 0.087, "y": 0.095},
      {"b": "pale", "c": "pale", "i": 6, "x": 0.033, "y": 0.176}
    ]
  },
  "vconcat": [
    {
      "width": 564,
      "height": 558,
      "resolve": {"axis": {"x": "independent", "y": "independent"}},
      "layer": [
        {
          "encoding": {
            "x": {"field": "x", "type": "quantitative", "scale": {"domain": [-2, 2], "nice": false, "zero": false}, "axis": {"values": [-2, -1, 0, 1, 2], "title": "Dimension 1"}},
            "y": {"field": "y", "type": "quantitative", "scale": {"domain": [-2, 2], "nice": false, "zero": false, "reverse": true}, "axis": {"values": [-2, -1, 0, 1, 2], "title": "Dimension 2"}}
          },
          "layer": [
            {
              "data": {"name": "ba"},
              "mark": {"type": "line", "interpolate": "cardinal-closed", "stroke": "#111", "strokeWidth": 1},
              "encoding": {
                "fill": {"field": "c", "type": "nominal", "legend": null, "scale": {"domain": ["green", "blue", "gray", "orange", "yellow", "pale"], "range": ["#c8e6cc", "#0aa4cc", "#bebec1", "#f5ca96", "#f6ca10", "#eff0a0"]}},
                "detail": {"field": "b", "type": "nominal"},
                "order": {"field": "i", "type": "quantitative"}
              }
            },
            {
              "data": {"name": "pa"},
              "mark": {"type": "circle", "size": 95, "strokeWidth": 1.2, "opacity": 1},
              "encoding": {
                "color": {"field": "g", "type": "nominal", "legend": null, "scale": {"domain": ["G", "K", "B", "P", "Y", "O", "R"], "range": ["#139145", "#2c2f36", "#2d63ae", "#f3a3c9", "#f4f1a6", "#f6c81a", "#e8262a"]}},
                "stroke": {"field": "g", "type": "nominal", "legend": null, "scale": {"domain": ["G", "K", "B", "P", "Y", "O", "R"], "range": ["#139145", "#2a4a8c", "#1f4b8c", "#2a4a8c", "#333333", "#2a4a8c", "#2a4a8c"]}}
              }
            },
            {"data": {"name": "pa"}, "transform": [{"filter": "datum.lp === 'r'"}], "mark": {"type": "text", "align": "left", "baseline": "middle", "dx": 8, "fontSize": 13.5}, "encoding": {"text": {"field": "id", "type": "nominal"}}},
            {"data": {"name": "pa"}, "transform": [{"filter": "datum.lp === 'l'"}], "mark": {"type": "text", "align": "right", "baseline": "middle", "dx": -8, "fontSize": 13.5}, "encoding": {"text": {"field": "id", "type": "nominal"}}},
            {"data": {"name": "pa"}, "transform": [{"filter": "datum.lp === 't'"}], "mark": {"type": "text", "align": "center", "baseline": "middle", "dy": -13, "fontSize": 13.5}, "encoding": {"text": {"field": "id", "type": "nominal"}}},
            {"data": {"name": "pa"}, "transform": [{"filter": "datum.lp === 'b'"}], "mark": {"type": "text", "align": "center", "baseline": "middle", "dy": 14, "fontSize": 13.5}, "encoding": {"text": {"field": "id", "type": "nominal"}}},
            {"data": {"name": "pa"}, "transform": [{"filter": "datum.lp === 'tr'"}], "mark": {"type": "text", "align": "left", "baseline": "middle", "dx": 6, "dy": -9, "fontSize": 13.5}, "encoding": {"text": {"field": "id", "type": "nominal"}}},
            {"data": {"name": "pa"}, "transform": [{"filter": "datum.lp === 'tl'"}], "mark": {"type": "text", "align": "right", "baseline": "middle", "dx": -6, "dy": -9, "fontSize": 13.5}, "encoding": {"text": {"field": "id", "type": "nominal"}}},
            {"data": {"name": "pa"}, "transform": [{"filter": "datum.lp === 'br'"}], "mark": {"type": "text", "align": "left", "baseline": "middle", "dx": 6, "dy": 10, "fontSize": 13.5}, "encoding": {"text": {"field": "id", "type": "nominal"}}},
            {"data": {"name": "pa"}, "transform": [{"filter": "datum.lp === 'bl'"}], "mark": {"type": "text", "align": "right", "baseline": "middle", "dx": -6, "dy": 10, "fontSize": 13.5}, "encoding": {"text": {"field": "id", "type": "nominal"}}},
            {"data": {"values": [{"x": -1.716, "y": -1.771, "t": "(a)"}]}, "mark": {"type": "text", "align": "center", "baseline": "middle", "fontSize": 17}, "encoding": {"text": {"field": "t", "type": "nominal"}}}
          ]
        },
        {
          "data": {"name": "pa"},
          "mark": {"type": "point", "opacity": 0},
          "encoding": {
            "x": {"field": "x", "type": "quantitative", "scale": {"domain": [-2, 2], "nice": false, "zero": false}, "axis": {"orient": "top", "values": [-1, 0, 1], "labels": false, "title": null}},
            "y": {"field": "y", "type": "quantitative", "scale": {"domain": [-2, 2], "nice": false, "zero": false, "reverse": true}, "axis": {"orient": "right", "values": [-1, 0, 1], "labels": false, "title": null}}
          }
        }
      ]
    },
    {
      "width": 550,
      "height": 591,
      "resolve": {"axis": {"x": "independent", "y": "independent"}},
      "layer": [
        {
          "encoding": {
            "x": {"field": "x", "type": "quantitative", "scale": {"domain": [-3, 3], "nice": false, "zero": false}, "axis": {"values": [-3, -2, -1, 0, 1, 2, 3], "title": "Factor 3", "labelPadding": 37, "titlePadding": 18}},
            "y": {"field": "y", "type": "quantitative", "scale": {"domain": [-2, 4], "nice": false, "zero": false}, "axis": {"values": [-2, -1, 0, 1, 2, 3, 4], "title": "Factor 5"}}
          },
          "layer": [
            {
              "data": {"name": "bb"},
              "mark": {"type": "line", "interpolate": "cardinal-closed", "stroke": "#111", "strokeWidth": 1},
              "encoding": {
                "fill": {"field": "c", "type": "nominal", "legend": null, "scale": {"domain": ["lblue", "blue", "gray", "orange", "yellow", "pale"], "range": ["#c8e8ee", "#0aa4cc", "#bebec1", "#f5ca96", "#f6ca10", "#eff0a0"]}},
                "detail": {"field": "b", "type": "nominal"},
                "order": {"field": "i", "type": "quantitative"}
              }
            },
            {
              "data": {"name": "pb"},
              "mark": {"type": "circle", "size": 130, "strokeWidth": 1.2, "opacity": 1},
              "encoding": {
                "color": {"field": "g", "type": "nominal", "legend": null, "scale": {"domain": ["G", "K", "B", "P", "Y", "O", "R"], "range": ["#138a43", "#0c0c16", "#24397a", "#f3a3c9", "#f4f1a6", "#f6c81a", "#e8262a"]}},
                "stroke": {"field": "g", "type": "nominal", "legend": null, "scale": {"domain": ["G", "K", "B", "P", "Y", "O", "R"], "range": ["#143d24", "#2a4a8c", "#24397a", "#2a4a8c", "#2a4a8c", "#2a4a8c", "#222222"]}}
              }
            },
            {"data": {"name": "pb"}, "transform": [{"filter": "datum.lp === 'r'"}], "mark": {"type": "text", "align": "left", "baseline": "middle", "dx": 9, "fontSize": 14}, "encoding": {"text": {"field": "id", "type": "nominal"}}},
            {"data": {"name": "pb"}, "transform": [{"filter": "datum.lp === 'l'"}], "mark": {"type": "text", "align": "right", "baseline": "middle", "dx": -9, "fontSize": 14}, "encoding": {"text": {"field": "id", "type": "nominal"}}},
            {"data": {"name": "pb"}, "transform": [{"filter": "datum.lp === 't'"}], "mark": {"type": "text", "align": "center", "baseline": "middle", "dy": -15, "fontSize": 14}, "encoding": {"text": {"field": "id", "type": "nominal"}}},
            {"data": {"name": "pb"}, "transform": [{"filter": "datum.lp === 'b'"}], "mark": {"type": "text", "align": "center", "baseline": "middle", "dy": 16, "fontSize": 14}, "encoding": {"text": {"field": "id", "type": "nominal"}}},
            {"data": {"name": "pb"}, "transform": [{"filter": "datum.lp === 'tr'"}], "mark": {"type": "text", "align": "left", "baseline": "middle", "dx": 7, "dy": -10, "fontSize": 14}, "encoding": {"text": {"field": "id", "type": "nominal"}}},
            {"data": {"name": "pb"}, "transform": [{"filter": "datum.lp === 'tl'"}], "mark": {"type": "text", "align": "right", "baseline": "middle", "dx": -7, "dy": -10, "fontSize": 14}, "encoding": {"text": {"field": "id", "type": "nominal"}}},
            {"data": {"name": "pb"}, "transform": [{"filter": "datum.lp === 'br'"}], "mark": {"type": "text", "align": "left", "baseline": "middle", "dx": 7, "dy": 11, "fontSize": 14}, "encoding": {"text": {"field": "id", "type": "nominal"}}},
            {"data": {"name": "pb"}, "transform": [{"filter": "datum.lp === 'bl'"}], "mark": {"type": "text", "align": "right", "baseline": "middle", "dx": -7, "dy": 11, "fontSize": 14}, "encoding": {"text": {"field": "id", "type": "nominal"}}},
            {"data": {"values": [{"x": -2.566, "y": 3.686, "t": "(b)"}]}, "mark": {"type": "text", "align": "center", "baseline": "middle", "fontSize": 17}, "encoding": {"text": {"field": "t", "type": "nominal"}}}
          ]
        },
        {
          "data": {"name": "pb"},
          "mark": {"type": "point", "opacity": 0},
          "encoding": {
            "x": {"field": "x", "type": "quantitative", "scale": {"domain": [-3, 3], "nice": false, "zero": false}, "axis": {"orient": "top", "values": [-2, -1, 0, 1, 2], "labels": false, "title": null}},
            "y": {"field": "y", "type": "quantitative", "scale": {"domain": [-2, 4], "nice": false, "zero": false}, "axis": {"orient": "right", "values": [-1, 0, 1, 2, 3], "labels": false, "title": null}}
          }
        }
      ]
    }
  ]
}
